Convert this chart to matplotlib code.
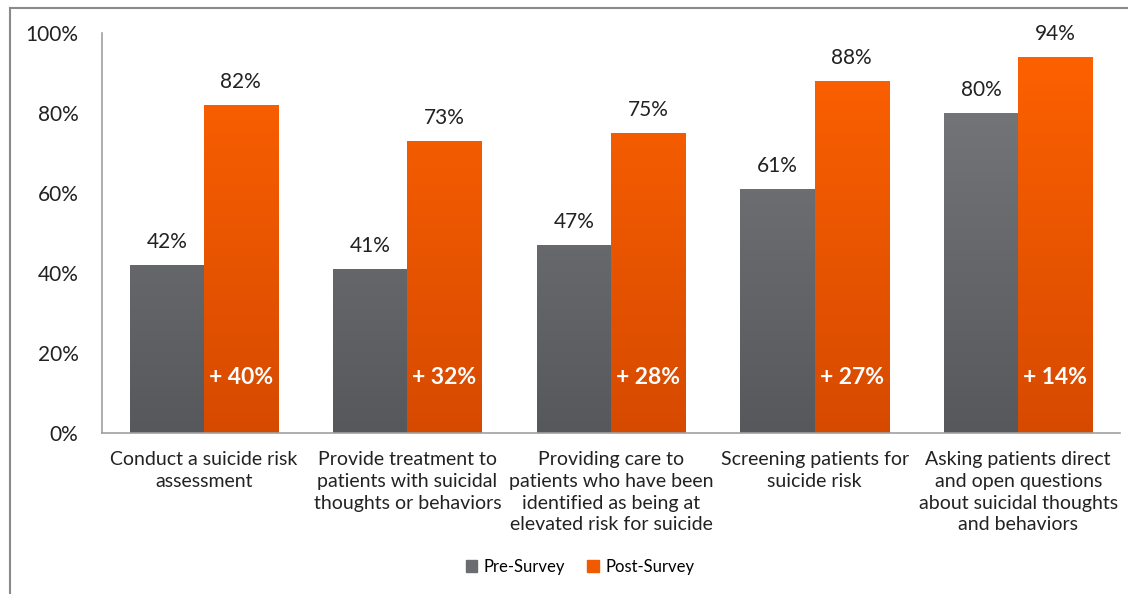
import matplotlib
matplotlib.use("Agg")
import matplotlib.pyplot as plt
import numpy as np
from matplotlib.colors import LinearSegmentedColormap
from matplotlib.lines import Line2D
from matplotlib.patches import Patch

categories = [
    "Conduct a suicide risk\nassessment",
    "Provide treatment to\npatients with suicidal\nthoughts or behaviors",
    "Providing care to\npatients who have been\nidentified as being at\nelevated risk for suicide",
    "Screening patients for\nsuicide risk",
    "Asking patients direct\nand open questions\nabout suicidal thoughts\nand behaviors",
]
pre_values = [42, 41, 47, 61, 80]
post_values = [82, 73, 75, 88, 94]
change_labels = ["+ 40%", "+ 32%", "+ 28%", "+ 27%", "+ 14%"]
yticks = [0, 20, 40, 60, 80, 100]
series_names = ["Pre-Survey", "Post-Survey"]

plt.rcParams['font.family'] = ['Lato', 'DejaVu Sans']

fig = plt.figure(figsize=(11.28, 5.94), dpi=100)
ax = fig.add_axes([102/1128, 1-433/594, 1018/1128, 400/594])

x = np.arange(len(categories))
w = 0.364

grey_cmap = LinearSegmentedColormap.from_list("g", ["#57585c", "#7a7b7e"])
orange_cmap = LinearSegmentedColormap.from_list("o", ["#d64a00", "#ff6200"])
grad = np.linspace(0, 1, 256).reshape(-1, 1)

bars_pre = ax.bar(x - w/2, pre_values, w, color="#6b6c70", zorder=1)
bars_post = ax.bar(x + w/2, post_values, w, color="#f05a00", zorder=1)

for bars, cmap in ((bars_pre, grey_cmap), (bars_post, orange_cmap)):
    for b in bars:
        x0 = b.get_x()
        bw = b.get_width()
        im = ax.imshow(grad, cmap=cmap, origin="lower", aspect="auto",
                       extent=[x0, x0 + bw, 0, 100], zorder=2)
        im.set_clip_path(b)
        b.set_alpha(0)

for i in range(len(categories)):
    ax.text(x[i] - w/2, pre_values[i] + 3.3, f"{pre_values[i]}%", ha="center",
            va="bottom", fontsize=15, color="#222222")
    ax.text(x[i] + w/2, post_values[i] + 3.3, f"{post_values[i]}%", ha="center",
            va="bottom", fontsize=15, color="#222222")
    ax.text(x[i] + w/2, 14, change_labels[i], ha="center", va="center",
            fontsize=16.5, color="white", fontweight="bold")

ax.set_xlim(-0.5, len(categories) - 0.5)
ax.set_ylim(0, 100)
ax.set_yticks(yticks)
ax.set_yticklabels([f"{v}%" for v in yticks], fontsize=15, color="#222222")
ax.set_xticks(x)
ax.set_xticklabels(categories, fontsize=14, color="#222222", linespacing=1.34)
ax.tick_params(axis="both", length=0)
ax.tick_params(axis="y", pad=17)
ax.tick_params(axis="x", pad=13)
for s in ("top", "right"):
    ax.spines[s].set_visible(False)
for s in ("left", "bottom"):
    ax.spines[s].set_color("#a0a0a0")
    ax.spines[s].set_linewidth(1.2)

handles = [Patch(color="#6b6c70"), Patch(color="#f05a00")]
fig.legend(handles, series_names, loc="center", bbox_to_anchor=(580/1128, 1-567/594),
           ncol=2, frameon=False, fontsize=12, handlelength=0.7, handleheight=0.7,
           handletextpad=0.4, columnspacing=1.3)

# figure frame
fig.add_artist(Line2D([10/1128, 10/1128], [0, 1-8/594], color="#8a8a8a", lw=1.5,
                      transform=fig.transFigure))
fig.add_artist(Line2D([10/1128, 1], [1-8/594, 1-8/594], color="#8a8a8a", lw=1.5,
                      transform=fig.transFigure))

fig.savefig("out.png", dpi=100)
